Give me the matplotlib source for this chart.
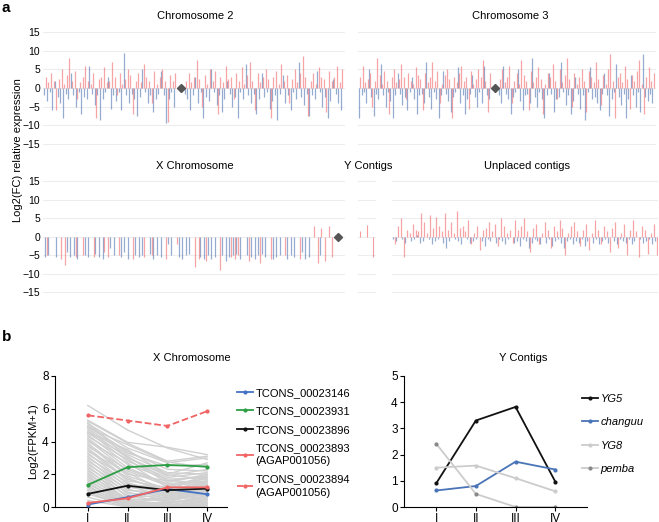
import numpy as np
import matplotlib
matplotlib.use("Agg")
import matplotlib.pyplot as plt

plt.rcParams['font.family'] = ['Liberation Sans', 'DejaVu Sans']
plt.rcParams['font.size'] = 8

W, H = 659, 522

# ---- panel a data (estimated spike heights, log2 FC) ----
chr2_arm1_red = [3, 1.5, 4, 2, -6, 2.5, 5, 1, 3.5, 8, 2, 4.5, -3, 1.5, 3, 6, 2, 1, 4, -8, 2.5, 3, 5.5, 1.5, 2,
                 7, 3, -2, 4, 1, 2.5, 5, 3.5, -7, 2, 4, 1.5, 6.5, 3, 2, -4, 4.5, 1, 3, 5, 2, -9, 3.5, 2, 4]
chr2_arm1_blue = [-2, -3.5, -1, -6, 2, -2.5, -4, -8, -1.5, -3, 4, -2, -5, -1, -7, -2.5, -3, 6, -1.5, -4.5, -2, -8.5,
                  -3, -1, 3, -5.5, -2, -3.5, -1, -6, 9.5, -2, -4, -1.5, -3, -7.5, -2.5, 5, -1, -4, -2, -6.5, -3,
                  -1.5, 4.5, -2, -9.5, -3, -1, -5]
chr2_arm2_red = [2, 4, 1.5, 3, 7.5, 2.5, -5, 3.5, 1, 5, 2, 4.5, -7, 3, 1.5, 6, 2.5, 3, -3, 4, 2, 5.5, 1, 3.5, 7, 2,
                 -6, 4, 1.5, 3, 5, 2.5, -8, 3, 4.5, 1, 6.5, 2, 3.5, -4, 2.5, 5, 1.5, 4, 8.5, 3, -7.5, 2, 4, 1, 5.5,
                 3, 2.5, -6.5, 4.5, 2, 3, 6, 1.5, 5]
chr2_arm2_blue = [-1.5, -3, -6, -2, 3, -4, -1, -8, -2.5, -3.5, 5, -1, -4.5, -2, -6.5, -3, 2, -1.5, -5, -2.5, -8, -1,
                  -3, 6.5, -2, -4, -1.5, -7, -3, 4, -2.5, -1, -5.5, -3.5, -2, -8.5, -1.5, 3.5, -4, -2, -6, -1, -3,
                  7, -2.5, -4.5, -1.5, -7.5, -2, -3, 4.5, -1, -5, -2.5, -8, -3.5, 2.5, -1.5, -4, -6]

chr3_arm1_red = [3, 6, 1.5, 2.5, 4, -5, 2, 8, 3.5, 1, 4.5, 2, -7, 3, 5, 1.5, 2.5, 6.5, 3, -3, 4, 2, 1, 5.5, 3.5,
                 2.5, -6, 4, 1.5, 3, 7, 2, 4.5, -4, 1, 3.5, 5, 2.5, -8, 3, 1.5, 4, 6, 2, 3, -5.5, 4.5, 1, 2.5, 5,
                 3, 7.5, 2, -6.5, 4]
chr3_arm1_blue = [-8, -2, -1, -4, 5, -2.5, -7.5, -1.5, -3, 6.5, -2, -5, -1, -3.5, -8, -2, 4, -1.5, -4.5, -2.5, -6,
                  -1, 3, -3, -7, -2, -1.5, -4, 7, -2.5, -5.5, -1, -3, -8, -2, 4.5, -1.5, -3.5, -6.5, -2.5, -1, 5.5,
                  -4, -2, -7, -3, -1.5, 3.5, -2.5, -5, -1, -4, 6, -2, -3]
chr3_arm2_red = [2.5, 5, 1.5, 3, 6, -4, 2, 4, 1, 7.5, 3.5, 2, -6, 4.5, 1.5, 3, 5.5, 2.5, -7, 1, 4, 3, 6.5, 2, -3, 5,
                 1.5, 3.5, 8, 2.5, -5, 4, 1, 3, 5, 2, -6.5, 4.5, 3, 1.5, 7, 2.5, -4.5, 3.5, 1, 5, 9, 2, -8, 3, 4,
                 1.5, 6, 2.5, -5.5, 3.5, 2, 4.5, 7.5, 1, -7, 3, 5.5, 2, 4]
chr3_arm2_blue = [-2, -4, 6, -1.5, -3, -7, -2.5, -1, 5, -3.5, -6, -2, -1.5, -4, 8, -2.5, -5, -1, -3, -8, -2, 4,
                  -1.5, -6.5, -3, -2.5, 7, -1, -4.5, -2, -7, -3.5, 3, -1.5, -5.5, -2, -8.5, -1, 5.5, -3, -2.5, -4,
                  -6, -1.5, 4, -2, -7.5, -3, -1, 6.5, -2.5, -4.5, -1.5, -8, -3, 3.5, -2, -5, -1, -6.5, 9, -2.5,
                  -3.5, -1.5, -4]

x_blue = [-5.5, -5, 0, -5.5, 0, 0, -4, -5.5, -5, -6, 0, -5, -5.5, 0, -4.5, -5.5, -6, 0, -3, -5, 0, -5.5, -4, -6, 0,
          -5, -5.5, -5, 0, -4.5, -6, -5, -5.5, 0, -2, -5, 0, -5.5, -6, -5, -4.5, 0, 0, -5.5, -6, -5, -6, -5.5, 0,
          -5, -6.5, -5.5, -5, -4.5, -6, 0, -5, -5.5, -6, -5, -4.5, -5.5, 0, -6, -5.5, -5, 0, -6, -5, -5.5, 0, -4,
          -6, -5.5, 0, 0, -5, 0, 0, 0]
x_red = [-5, 0, 0, 0, -6, -7.5, 0, 0, -5.5, 0, -5, 0, 0, -5.5, 0, 0, -4, -5.5, 0, 0, -5, 0, 0, 0, -6, 0, 0, -5.5, 0,
         -5, 0, 0, 0, -6, 0, 0, -2, 0, 0, 0, 0, -8, -6, 0, -6.5, 0, 0, 0, -9, 0, 0, -5.5, -6, -5, 0, 0, -6.5, 0, 0,
         -7, 0, 0, -6, 0, 0, 0, -5, 0, 0, 0, -6, 0, 0, 0, 3, -7, 2.5, -6.5, 3, -5.5]

y_red = [1.5, 0, 3.2, 0, -5.5]

unpl_red = [-2, 3, 5, -5.5, 2, 1, 3.5, 2, 1.5, 6.5, 4, 1, 6, 2.5, 5.5, 3, 1.5, 6.5, 2, 4, 1, 7, 2.5, 3, 1.5, 4.5,
            -2, 1, 3, -3.5, 2, 2.5, 4, 1.5, 3.5, -2.5, 5, 3, 1, 2, -1.5, 4.5, 2, 3, 5, 1.5, -4, 2.5, 3.5, -2, 1, 4,
            2, -3, 3, 1.5, 4.5, 2.5, -5, 1, 3, 4, 1.5, -2.5, 2, 3.5, -3.5, 1, 4.5, 2, -2, 3, 1.5, -4, 2.5, 4, -3, 1,
            3.5, -5, 2, 4.5, 1.5, -5.5, 3, 2, -4.5, 1, 3.5, -5]
unpl_blue = [-0.5, -1, 0, -0.5, -1.5, 0, -1, -0.5, 0.5, -1.5, -1, 0, -0.5, -2, -1, -0.5, 0, -1.5, -3, -1, 0, -0.5,
             -1, -2, 0, -0.5, -1.5, -1, -0.5, 0, -1, -2.5, -0.5, -1, 0, -1.5, -0.5, -1, -2, -0.5, 0, -1.5, -1, -2.5,
             -0.5, -1, -3, -1.5, -0.5, -1, -2, 0, -1.5, -0.5, -2.5, -1, -0.5, -1.5, -3, -1, -0.5, -2, -1, -1.5,
             -0.5, -2.5, -1, 0, -1.5, -0.5, -2, -1, -0.5, -1.5, 0, -1, -2, -0.5, -1, -1.5, -0.5, -2, -1, 0, -0.5,
             -1.5, -1, -0.5, -2, -1]

# ---- panel b data ----
stages = ['I', 'II', 'III', 'IV']
x_gray = [
    [6.2, 4.7, 3.6, 2.9], [5.3, 3.95, 3.65, 3.2], [5.25, 3.9, 2.8, 3.1], [5.1, 3.6, 2.7, 3.0],
    [5.0, 3.3, 2.5, 2.6], [4.9, 3.4, 2.3, 2.2], [4.8, 3.2, 2.1, 2.0], [4.7, 3.0, 1.9, 2.3],
    [4.6, 2.8, 1.8, 2.1], [4.5, 3.1, 1.6, 1.9], [4.4, 2.6, 1.7, 1.8], [4.3, 2.9, 1.5, 2.0],
    [4.2, 2.4, 1.4, 1.7], [4.1, 2.2, 1.3, 1.6], [4.0, 2.7, 1.2, 1.9], [3.9, 2.0, 1.6, 1.5],
    [3.8, 1.9, 1.1, 1.8], [3.7, 2.3, 1.4, 1.4], [3.6, 1.7, 1.0, 1.6], [3.5, 1.6, 1.2, 1.3],
    [3.4, 2.1, 0.9, 1.5], [3.3, 1.4, 1.1, 1.2], [3.2, 1.8, 0.8, 1.4], [3.1, 1.2, 1.0, 1.1],
    [3.0, 1.5, 0.7, 1.3], [2.9, 1.0, 0.9, 1.0], [2.8, 1.3, 0.6, 1.2], [2.7, 0.8, 0.8, 0.9],
    [2.6, 1.1, 0.5, 1.1], [2.5, 0.6, 0.7, 0.8], [2.4, 0.9, 0.4, 1.0], [2.3, 0.4, 0.6, 0.7],
    [2.2, 0.7, 0.3, 0.9], [2.1, 0.3, 0.5, 0.6], [2.0, 0.5, 0.4, 0.8], [1.9, 0.2, 0.3, 0.5],
    [1.8, 0.4, 0.2, 0.7], [1.7, 0.1, 0.3, 0.4], [1.6, 0.3, 0.2, 0.6], [1.5, 0.05, 0.15, 0.3],
    [1.4, 0.2, 0.1, 0.5], [1.3, 0.0, 0.1, 0.2], [1.2, 0.15, 0.05, 0.4], [1.1, 0.0, 0.0, 0.2],
    [1.0, 0.1, 0.1, 0.3], [0.9, 0.0, 0.05, 0.1], [0.8, 0.05, 0.0, 0.2], [0.6, 0.0, 0.0, 0.1],
    [0.4, 0.0, 0.0, 0.05], [4.85, 3.8, 2.75, 2.4], [5.15, 3.0, 2.0, 2.7], [4.55, 3.5, 1.95, 1.7],
]
x_genes = ['TCONS_00023146', 'TCONS_00023931', 'TCONS_00023896',
           'TCONS_00023893\n(AGAP001056)', 'TCONS_00023894\n(AGAP001056)']
x_vals = [[0.15, 0.6, 1.1, 0.78],
          [1.35, 2.43, 2.57, 2.47],
          [0.8, 1.3, 1.03, 1.12],
          [0.25, 0.53, 1.2, 1.2],
          [5.6, 5.28, 4.95, 5.85]]
x_cols = ['#4472c4', '#2e9e45', '#111111', '#f06464', '#f06464']
x_ls = ['-', '-', '-', '-', '--']

y_genes = ['YG5', 'changuu', 'YG8', 'pemba']
y_vals = [[0.9, 3.3, 3.82, 0.97],
          [0.63, 0.8, 1.73, 1.43],
          [1.5, 1.58, 1.1, 0.6],
          [2.42, 0.5, 0.0, 0.0]]
y_cols = ['#111111', '#4a74b8', '#cccccc', '#cccccc']
y_mk = ['#111111', '#4a74b8', '#cccccc', '#888888']

RED, BLUE = '#f05a5e', '#3f66a8'


def rect(x0, x1, ytop, ybot):
    return [x0 / W, 1 - ybot / H, (x1 - x0) / W, (ybot - ytop) / H]


def spike_ax(r, labels):
    ax = fig.add_axes(r)
    ax.set_ylim(-16, 16)
    for g in range(-15, 16, 5):
        ax.axhline(g, color='#ededed', lw=0.8, zorder=0)
    for s in ax.spines.values():
        s.set_visible(False)
    ax.set_xticks([])
    ax.set_yticks(range(-15, 16, 5))
    ax.tick_params(axis='y', length=0, pad=2, labelsize=7.5, labelleft=labels)
    return ax


def spikes(ax, pos, red, blue):
    pos = np.asarray(pos, dtype=float)
    ax.vlines(pos, 0, blue, colors=BLUE, lw=0.9, alpha=0.55)
    ax.vlines(pos + 0.5, 0, red, colors=RED, lw=0.9, alpha=0.55)


def arms(ax, a1r, a1b, a2r, a2b):
    n1, n2 = len(a1r), len(a2r)
    spikes(ax, np.arange(n1), a1r, a1b)
    cen = n1 + 1.5
    spikes(ax, np.arange(n2) + n1 + 3, a2r, a2b)
    ax.plot([cen], [0], marker='D', ms=4.5, color='#555555', zorder=5)
    ax.set_xlim(-0.5, n1 + n2 + 3.5)


fig = plt.figure(figsize=(W / 100, H / 100), dpi=100)

# row 1: ylim -16..16 -> 0 at py 88, 3.73 px/unit
r1 = (88 - 16 * 3.73, 88 + 16 * 3.73)
r2 = (237 - 16 * 3.7, 237 + 16 * 3.7)

ax = spike_ax(rect(43, 345, *r1), True)
arms(ax, chr2_arm1_red, chr2_arm1_blue, chr2_arm2_red, chr2_arm2_blue)
ax = spike_ax(rect(358, 656, *r1), False)
arms(ax, chr3_arm1_red, chr3_arm1_blue, chr3_arm2_red, chr3_arm2_blue)

ax = spike_ax(rect(43, 345, *r2), True)
n = len(x_blue)
spikes(ax, np.arange(n), x_red, x_blue)
ax.plot([n + 1.2], [0], marker='D', ms=4.5, color='#555555', zorder=5)
ax.set_xlim(-0.5, n + 3)

ax = spike_ax(rect(358, 376, *r2), False)
ax.vlines(np.arange(len(y_red)), 0, y_red, colors=RED, lw=0.8, alpha=0.6)
ax.set_xlim(-0.8, len(y_red))

ax = spike_ax(rect(392, 658, *r2), False)
spikes(ax, np.arange(len(unpl_red)), unpl_red, unpl_blue)
ax.set_xlim(-0.5, len(unpl_red))

for txt, px, py in [('Chromosome 2', 195, 16), ('Chromosome 3', 510, 16), ('X Chromosome', 195, 166),
                    ('Y Contigs', 368, 166), ('Unplaced contigs', 527, 166),
                    ('X Chromosome', 192, 358), ('Y Contigs', 523, 358)]:
    fig.text(px / W, 1 - py / H, txt, ha='center', va='center', fontsize=8)
fig.text(18 / W, 1 - 150 / H, 'Log2(FC) relative expression', rotation=90, ha='center', va='center', fontsize=8)
fig.text(2 / W, 1 - 8 / H, 'a', fontsize=11, fontweight='bold', va='center')
fig.text(2 / W, 1 - 337 / H, 'b', fontsize=11, fontweight='bold', va='center')

# ---- panel b ----
xs = np.arange(1, 5)


def line_ax(r, ymax, xlim):
    ax = fig.add_axes(r)
    ax.set_ylim(0, ymax)
    ax.set_xlim(*xlim)
    ax.spines[['top', 'right']].set_visible(False)
    for s in ax.spines.values():
        s.set_linewidth(0.8)
    ax.set_xticks(xs)
    ax.set_xticklabels(stages)
    ax.set_yticks(range(0, ymax + 1, 2 if ymax > 5 else 1))
    ax.tick_params(length=3, width=0.8, labelsize=8.5, pad=1.5)
    return ax


ax = line_ax(rect(55, 227, 376, 507), 8, (0.175, 4.5))
for row in x_gray:
    ax.plot(xs, row, color='#d0d0d0', lw=1.0, zorder=1)
for name, v, c, ls in zip(x_genes, x_vals, x_cols, x_ls):
    ax.plot(xs, v, color=c, ls=ls, lw=1.3, marker='o', ms=2.0, label=name, zorder=3)
ax.set_ylabel('Log2(FPKM+1)', fontsize=8, labelpad=3)
leg = ax.legend(loc='upper left', bbox_to_anchor=(1.0, 0.985), frameon=False, fontsize=8,
                handlelength=1.4, handletextpad=0.25, labelspacing=0.75)
for t in leg.get_texts():
    t.set_linespacing(1.4)

ax = line_ax(rect(404, 587, 376, 507), 5, (0.19, 4.8))
for name, v, c, m in zip(y_genes, y_vals, y_cols, y_mk):
    ax.plot(xs, v, color=c, lw=1.3, marker='o', ms=2.0, mfc=m, mec=m, label=name)
leg = ax.legend(loc='upper left', bbox_to_anchor=(0.92, 0.94), frameon=False, fontsize=8,
                handlelength=1.4, handletextpad=0.25, labelspacing=1.2)
for t in leg.get_texts():
    t.set_fontstyle('italic')

fig.savefig('out.png', dpi=100)
